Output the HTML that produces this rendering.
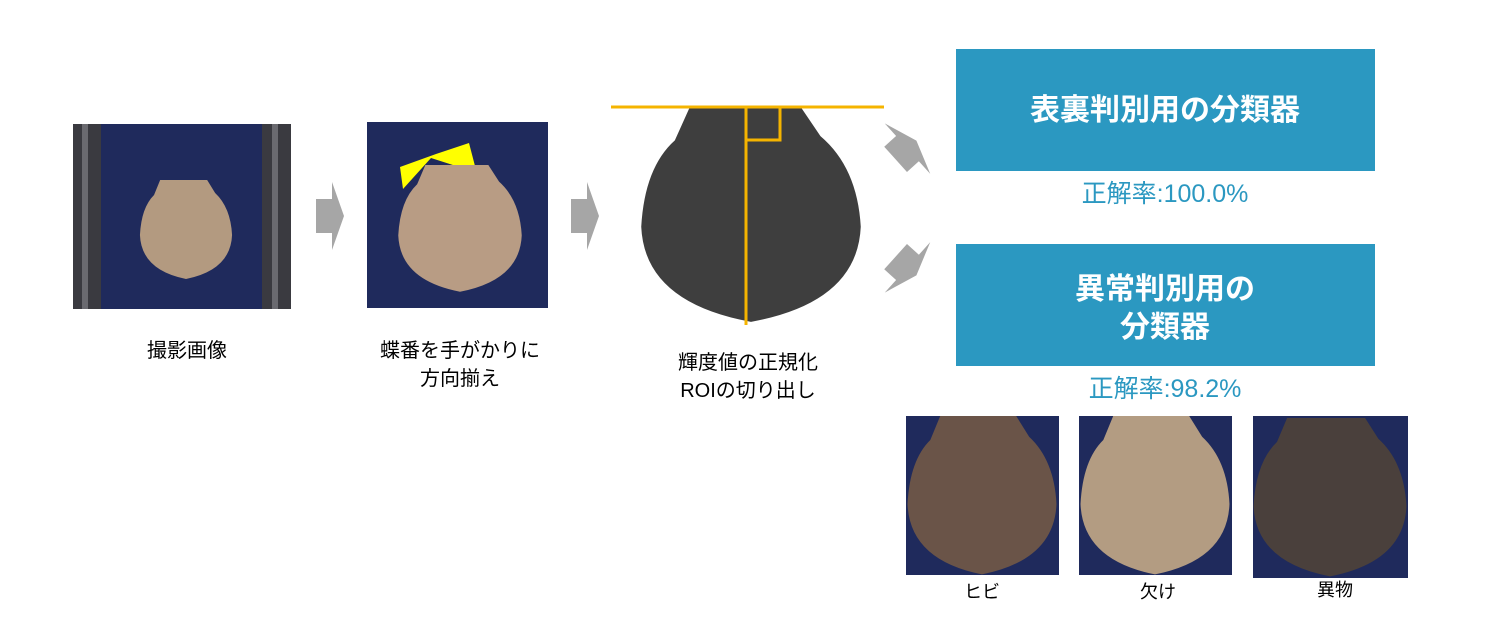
<!DOCTYPE html>
<html><head><meta charset="utf-8"><style>
body{margin:0;background:#fff;}
svg text{font-family:"Liberation Sans","Noto Sans CJK JP",sans-serif;}
</style></head><body>
<svg width="1500" height="632" viewBox="0 0 1500 632" xmlns="http://www.w3.org/2000/svg">
<defs>
<path id="sh" d="M-0.55,-1 L0.45,-1 L0.62,-0.74 Q0.95,-0.45 0.98,0.1 Q0.95,0.8 0,0.98 Q-0.95,0.8 -0.98,0.1 Q-0.95,-0.45 -0.68,-0.7 Z"/>
<polygon id="ar" points="-14,-17 2,-17 2,-34 14,0 2,34 2,17 -14,17"/>
</defs>
<rect x="73" y="124" width="218" height="185" fill="#1f2a5c"/>
<rect x="73" y="124" width="28" height="185" fill="#3a3a40"/>
<rect x="82" y="124" width="6" height="185" fill="#6a6a70"/>
<rect x="262" y="124" width="29" height="185" fill="#3a3a40"/>
<rect x="272" y="124" width="6" height="185" fill="#6a6a70"/>
<use href="#sh" transform="translate(186,230) scale(47,50)" fill="#b39a80"/>
<use href="#ar" transform="translate(330,216)" fill="#a6a6a6"/>
<rect x="367" y="122" width="181" height="186" fill="#1f2a5c"/>
<polygon points="400,167 403,189 431,158 456,166 475,166 469,143 436,154" fill="#ffff00"/>
<use href="#sh" transform="translate(460,229) scale(63,64)" fill="#b89c84"/>
<use href="#ar" transform="translate(585,216)" fill="#a6a6a6"/>
<use href="#sh" transform="translate(751,216) scale(112,108)" fill="#3e3e3e"/>
<line x1="611" y1="107" x2="884" y2="107" stroke="#f5b400" stroke-width="3"/>
<line x1="746" y1="107" x2="746" y2="325" stroke="#f5b400" stroke-width="3"/>
<polyline points="746,140 780,140 780,107" fill="none" stroke="#f5b400" stroke-width="3"/>
<use href="#ar" transform="translate(906,150) rotate(-42)" fill="#a6a6a6"/>
<use href="#ar" transform="translate(906,266) rotate(42)" fill="#a6a6a6"/>
<rect x="956" y="49" width="419" height="122" fill="#2b98c1"/>
<text x="1165" y="120" font-size="30" font-weight="bold" fill="#fff" text-anchor="middle">表裏判別用の分類器</text>
<text x="1165" y="202" font-size="25" fill="#2b98c1" text-anchor="middle">正解率:100.0%</text>
<rect x="956" y="244" width="419" height="122" fill="#2b98c1"/>
<text x="1165" y="299" font-size="30" font-weight="bold" fill="#fff" text-anchor="middle">異常判別用の</text>
<text x="1165" y="337" font-size="30" font-weight="bold" fill="#fff" text-anchor="middle">分類器</text>
<text x="1165" y="397" font-size="25" fill="#2b98c1" text-anchor="middle">正解率:98.2%</text>
<rect x="906" y="416" width="153" height="159" fill="#1f2a5c"/>
<use href="#sh" transform="translate(982,496) scale(76,80)" fill="#6a5448"/>
<rect x="1079" y="416" width="153" height="159" fill="#1f2a5c"/>
<use href="#sh" transform="translate(1155,496) scale(76,80)" fill="#b39c82"/>
<rect x="1253" y="416" width="155" height="162" fill="#1f2a5c"/>
<use href="#sh" transform="translate(1330,498) scale(78,80)" fill="#4a403c"/>
<text x="982" y="598" font-size="18" fill="#000" text-anchor="middle">ヒビ</text>
<text x="1158" y="598" font-size="18" fill="#000" text-anchor="middle">欠け</text>
<text x="1335" y="596" font-size="18" fill="#000" text-anchor="middle">異物</text>
<text x="187" y="357" font-size="20" fill="#000" text-anchor="middle">撮影画像</text>
<text x="460" y="357" font-size="20" fill="#000" text-anchor="middle">蝶番を手がかりに</text>
<text x="460" y="385" font-size="20" fill="#000" text-anchor="middle">方向揃え</text>
<text x="748" y="369" font-size="20" fill="#000" text-anchor="middle">輝度値の正規化</text>
<text x="748" y="397" font-size="20" fill="#000" text-anchor="middle">ROIの切り出し</text>
</svg>
</body></html>
